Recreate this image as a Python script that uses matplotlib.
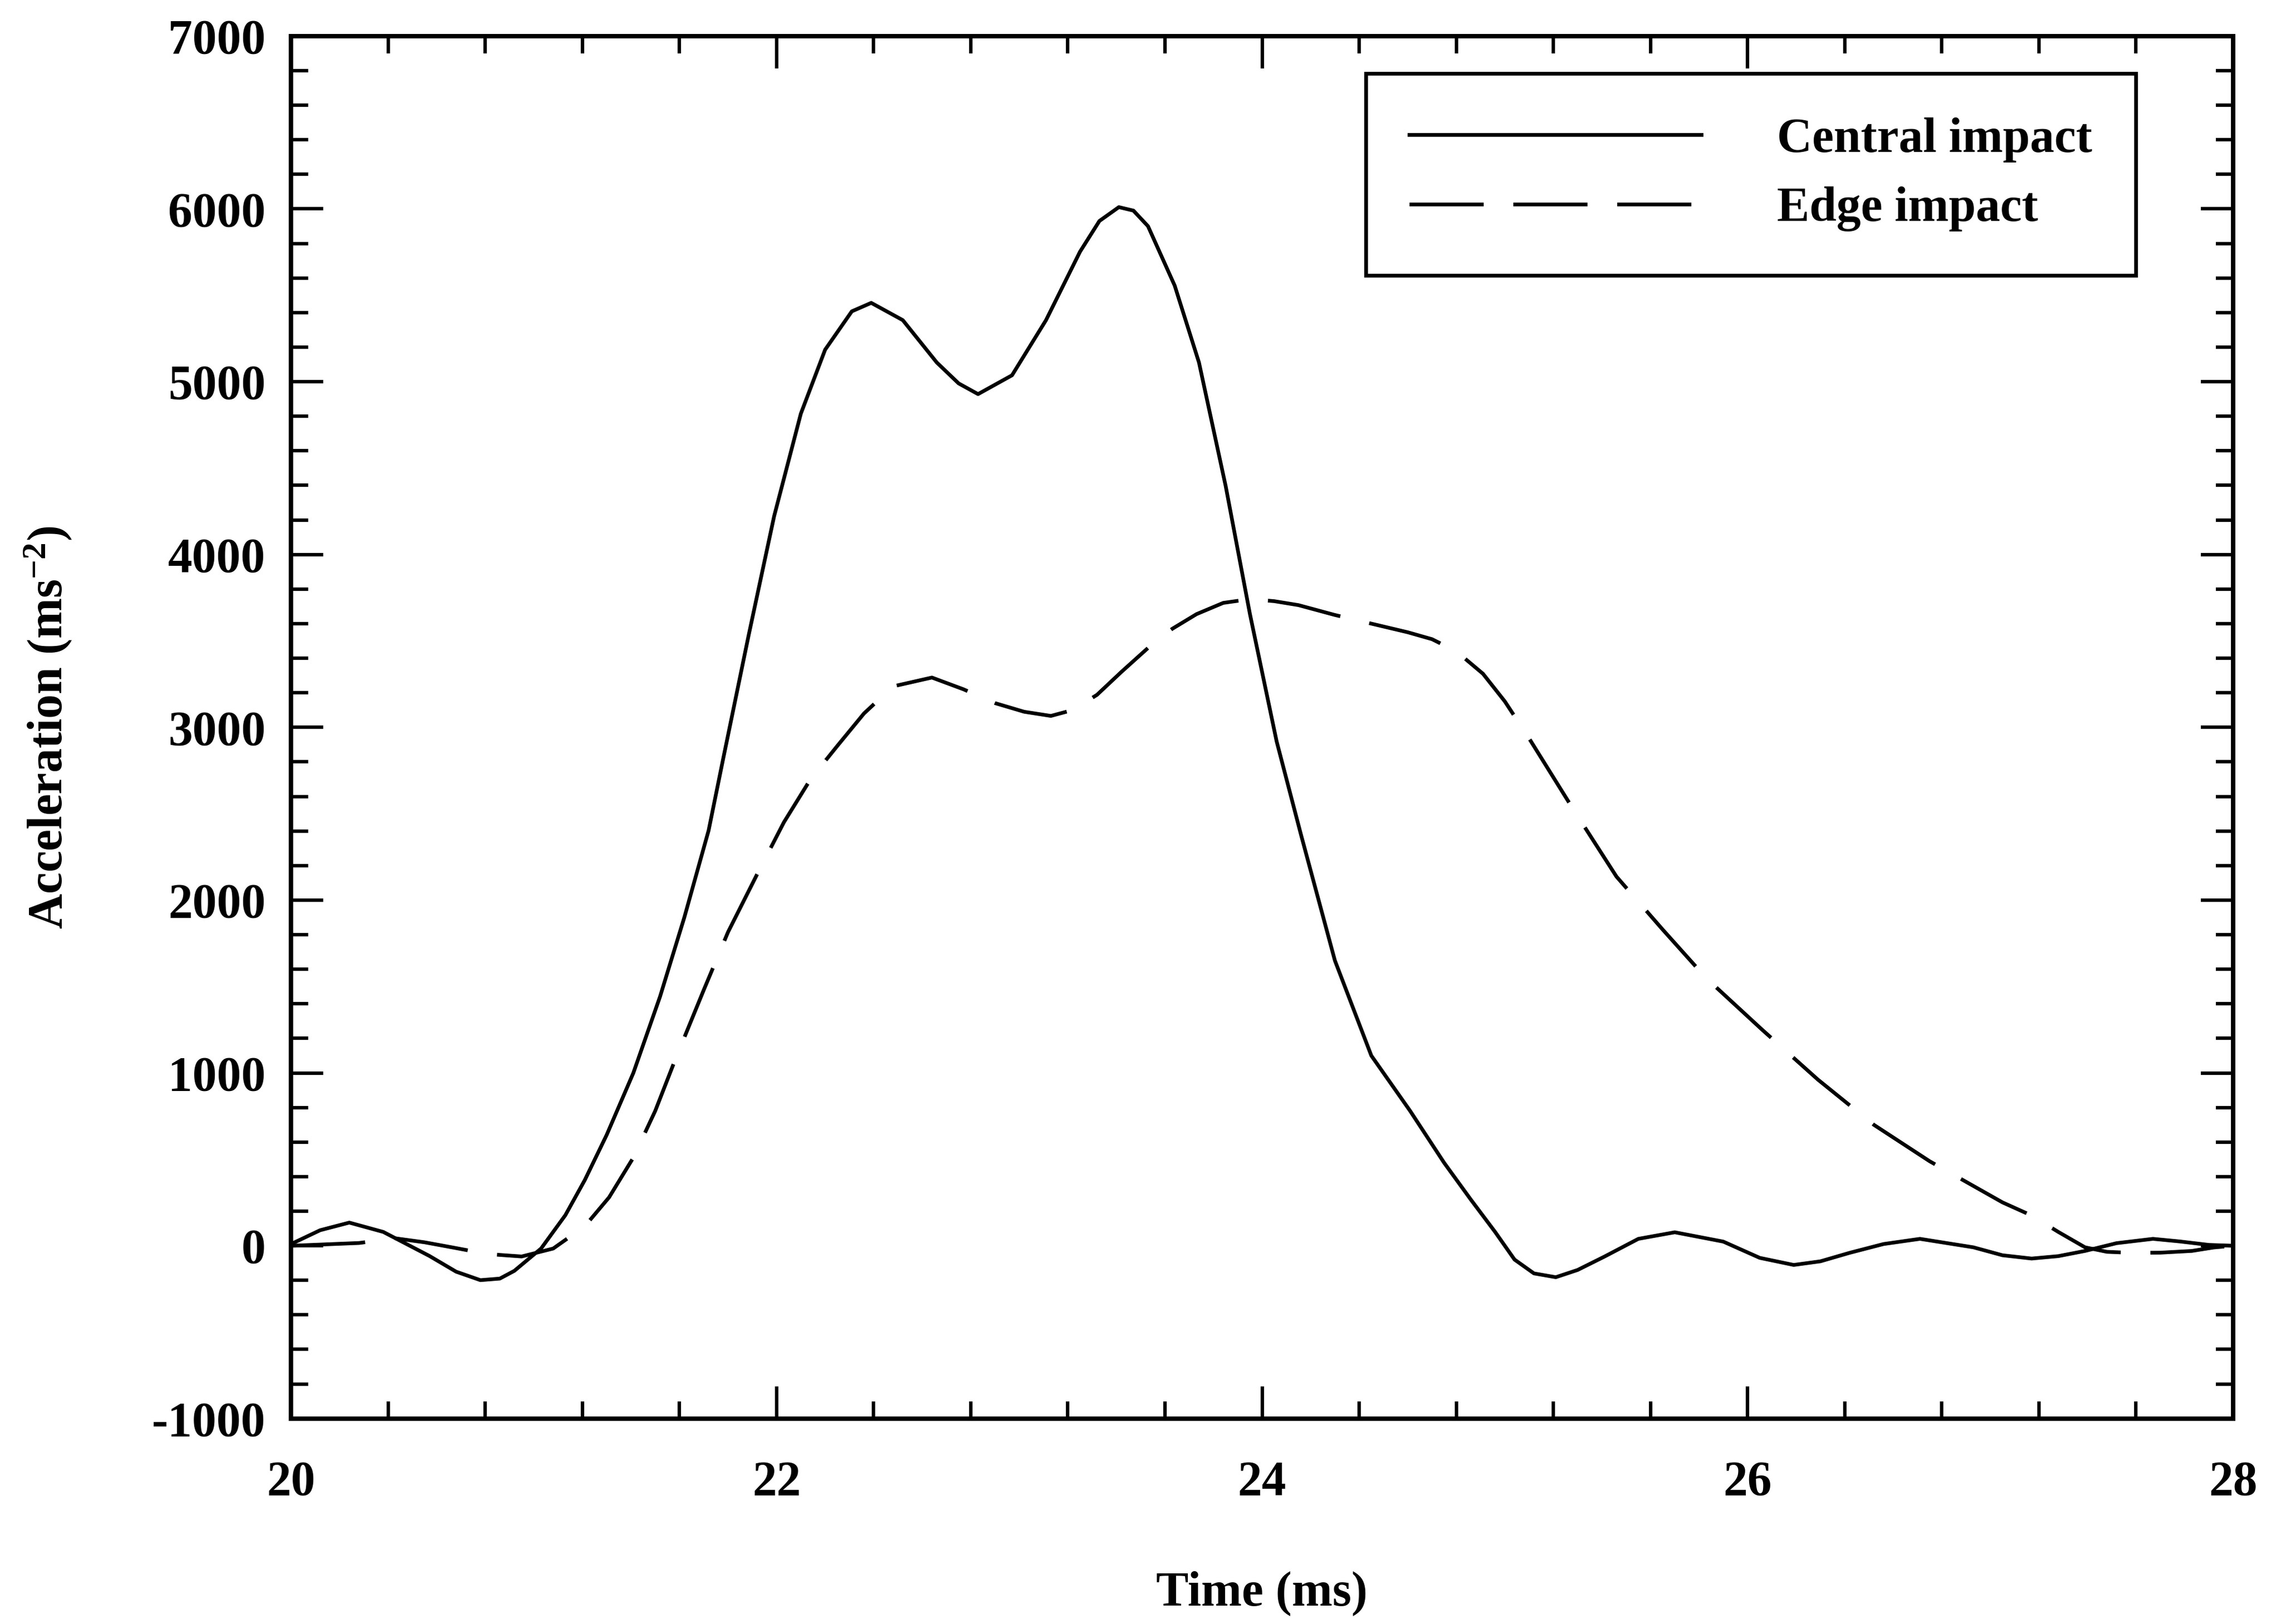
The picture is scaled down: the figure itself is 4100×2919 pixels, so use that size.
import matplotlib
matplotlib.use("Agg")
import matplotlib.pyplot as plt
from matplotlib.ticker import MultipleLocator

plt.rcParams['font.family'] = ['Liberation Serif', 'DejaVu Serif']
plt.rcParams['font.weight'] = 'bold'
plt.rcParams['mathtext.fontset'] = 'custom'
plt.rcParams['mathtext.rm'] = 'Liberation Serif:bold'
plt.rcParams['mathtext.default'] = 'rm'
plt.rcParams['axes.unicode_minus'] = False

# central impact (solid)
central_t = [20.0, 20.12, 20.24, 20.38, 20.57, 20.68, 20.78, 20.86, 20.92, 21.03,
             21.13, 21.21, 21.3, 21.41, 21.52, 21.62, 21.72, 21.78, 21.885, 21.99,
             22.1, 22.2, 22.31, 22.39, 22.52, 22.66, 22.75, 22.83, 22.97, 23.11,
             23.25, 23.33, 23.41, 23.47, 23.53, 23.64, 23.74, 23.85, 23.95, 24.06,
             24.16, 24.3, 24.45, 24.61, 24.75, 24.86, 24.96, 25.04, 25.12, 25.21,
             25.3, 25.41, 25.55, 25.7, 25.9, 26.05, 26.19, 26.3, 26.42, 26.56,
             26.71, 26.93, 27.05, 27.17, 27.28, 27.39, 27.52, 27.67, 27.78, 27.9,
             28.0]
central_a = [10, 90, 134, 80, -59, -150, -199, -190, -145, -16,
             177, 380, 641, 1000, 1442, 1900, 2403, 2818, 3533, 4222,
             4815, 5185, 5407, 5456, 5356, 5111, 4990, 4928, 5037, 5356,
             5752, 5930, 6010, 5990, 5900, 5556, 5111, 4396, 3655, 2918,
             2380, 1650, 1100, 780, 480, 267, 80, -80, -160, -182,
             -140, -63, 40, 78, 24, -70, -111, -90, -41, 10,
             40, -9, -55, -74, -60, -30, 15, 40, 25, 5,
             0]

# edge impact (dashed)
edge_t = [20.0, 20.28, 20.43, 20.55, 20.67, 20.81, 20.95, 21.08, 21.21, 21.31,
          21.41, 21.5, 21.58, 21.7, 21.8, 21.92, 22.03, 22.14, 22.25, 22.36,
          22.48, 22.64, 22.77, 22.9, 23.02, 23.13, 23.22, 23.32, 23.42, 23.53,
          23.63, 23.73, 23.84, 23.95, 24.05, 24.15, 24.3, 24.45, 24.6, 24.7,
          24.8, 24.91, 25.0, 25.1, 25.28, 25.46, 25.65, 25.83, 26.06, 26.29,
          26.52, 26.75, 26.9, 27.05, 27.17, 27.28, 27.39, 27.48, 27.58, 27.7,
          27.83, 27.92, 28.0]
edge_a = [0, 16, 43, 20, -11, -48, -62, -16, 113, 280,
          510, 780, 1068, 1480, 1815, 2150, 2450, 2700, 2892, 3080,
          3237, 3288, 3220, 3140, 3090, 3066, 3100, 3188, 3320, 3459,
          3570, 3655, 3720, 3742, 3730, 3707, 3650, 3600, 3550, 3510,
          3440, 3310, 3150, 2936, 2530, 2136, 1830, 1548, 1250, 961,
          700, 489, 370, 251, 175, 80, -9, -35, -41, -40,
          -30, -10, 0]

fig = plt.figure(figsize=(4100/300, 2919/300), dpi=300)
ax = fig.add_axes([0.1276, 0.1265, 0.8514, 0.8513])

ax.plot(central_t, central_a, color='black', lw=1.6, label='Central impact')
ax.plot(edge_t, edge_a, color='black', lw=1.6, dashes=(20, 8), label='Edge impact')

ax.set_xlim(20, 28)
ax.set_ylim(-1000, 7000)
ax.xaxis.set_major_locator(MultipleLocator(2))
ax.xaxis.set_minor_locator(MultipleLocator(0.4))
ax.yaxis.set_major_locator(MultipleLocator(1000))
ax.yaxis.set_minor_locator(MultipleLocator(200))

ax.tick_params(which='both', direction='in', top=True, right=True, width=1.5, labelsize=21)
ax.tick_params(which='major', length=14)
ax.tick_params(which='minor', length=7.5)
ax.tick_params(axis='y', pad=11)
ax.tick_params(axis='x', pad=18)
for lab in ax.get_xticklabels() + ax.get_yticklabels():
    lab.set_fontweight('bold')
for s in ax.spines.values():
    s.set_linewidth(1.9)

ax.set_xlabel('Time (ms)', fontsize=21, fontweight='bold')
ax.set_ylabel('Acceleration (ms$^{-2}$)', fontsize=21, fontweight='bold')
ax.xaxis.set_label_coords(0.5, -0.11)
ax.yaxis.set_label_coords(-0.112, 0.5)

leg = ax.legend(loc='upper right', bbox_to_anchor=(0.95, 0.973), borderaxespad=0,
                fontsize=21, handlelength=6.0, handletextpad=1.55, borderpad=0.9,
                labelspacing=0.5, fancybox=False, framealpha=1,
                edgecolor='black')
leg.get_frame().set_linewidth(1.6)
for t in leg.get_texts():
    t.set_fontweight('bold')

fig.savefig('out.png', dpi=300)
